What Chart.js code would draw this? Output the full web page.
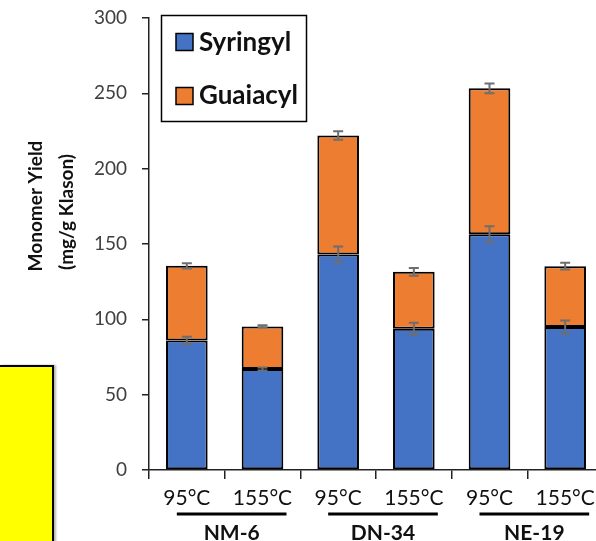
<!DOCTYPE html>
<html>
<head>
<meta charset="utf-8">
<script src="https://cdn.jsdelivr.net/npm/chart.js@4"></script>
<style>
  html, body { margin: 0; padding: 0; overflow: hidden; background: #fff; }
  #wrap { position: relative; width: 610px; height: 541px; }
  #yellow { position: absolute; left: 0; top: 365px; width: 52px; height: 176px; background: #ffff00; border-top: 2px solid #000; border-right: 2px solid #000; box-shadow: 2px 0 2px rgba(0,0,0,0.3); }
</style>
</head>
<body>
<div id="wrap">
  <canvas id="c" width="610" height="541"></canvas>
  <div id="yellow"></div>
</div>
<script>
const categories = ['95°C', '155°C', '95°C', '155°C', '95°C', '155°C'];
const groups = ['NM-6', 'DN-34', 'NE-19'];
const syringyl = [86, 67, 143, 93.8, 156.4, 94.9];
const guaiacyl = [49.5, 28.3, 79, 37.7, 96.9, 40.4];
const syringylErr = [2.5, 1, 5.3, 4, 5.3, 4.4];
const totalErr = [1.7, 0.7, 2.8, 2.5, 3.3, 2.2];
const yTicks = [0, 50, 100, 150, 200, 250, 300];

const FONT = 'Lato, "Open Sans", sans-serif';

const errorBars = {
  id: 'errorBars',
  afterDatasetsDraw(chart) {
    const ctx = chart.ctx;
    const xs = chart.scales.x, ys = chart.scales.y;
    ctx.save();
    ctx.strokeStyle = '#6e6e6e';
    ctx.lineWidth = 2;
    categories.forEach((c, i) => {
      const x = xs.getPixelForValue(i);
      const pairs = [[syringyl[i], syringylErr[i]], [syringyl[i] + guaiacyl[i], totalErr[i]]];
      pairs.forEach(([v, e]) => {
        const y1 = ys.getPixelForValue(v - e), y2 = ys.getPixelForValue(v + e);
        ctx.beginPath();
        ctx.moveTo(x, y1); ctx.lineTo(x, y2);
        ctx.moveTo(x - 5, y1); ctx.lineTo(x + 5, y1);
        ctx.moveTo(x - 5, y2); ctx.lineTo(x + 5, y2);
        ctx.stroke();
      });
    });
    ctx.restore();
  }
};

const extras = {
  id: 'extras',
  afterDraw(chart) {
    const ctx = chart.ctx;
    const xs = chart.scales.x;
    ctx.save();
    // group labels
    groups.forEach((g, gi) => {
      const xa = xs.getPixelForValue(gi * 2) - 10, xb = xs.getPixelForValue(gi * 2 + 1) + 24;
      ctx.strokeStyle = '#000';
      ctx.lineWidth = 3;
      ctx.beginPath();
      ctx.moveTo(xa, 514); ctx.lineTo(xb, 514);
      ctx.stroke();
      ctx.fillStyle = '#111';
      ctx.font = 'bold 21px ' + FONT;
      ctx.textAlign = 'center';
      ctx.textBaseline = 'alphabetic';
      ctx.fillText(g, (xa + xb) / 2, 540);
    });
    // y title
    ctx.fillStyle = '#111';
    ctx.font = 'bold 19px ' + FONT;
    ctx.textAlign = 'center';
    ctx.textBaseline = 'middle';
    ctx.save(); ctx.translate(36, 206); ctx.rotate(-Math.PI / 2); ctx.fillText('Monomer Yield', 0, 0); ctx.restore();
    ctx.save(); ctx.translate(67, 212); ctx.rotate(-Math.PI / 2); ctx.fillText('(mg/g Klason)', 0, 0); ctx.restore();
    // legend
    ctx.strokeStyle = '#000';
    ctx.lineWidth = 1.5;
    ctx.fillStyle = '#fff';
    ctx.fillRect(161.5, 15.5, 145, 106);
    ctx.strokeRect(161.5, 15.5, 145, 106);
    const items = [['Syringyl', '#4472C4', 42, 51], ['Guaiacyl', '#ED7D31', 96, 104]];
    items.forEach(([t, col, cy, base]) => {
      ctx.fillStyle = col;
      ctx.fillRect(176, cy - 8.5, 17, 17);
      ctx.lineWidth = 1.5;
      ctx.strokeStyle = '#000';
      ctx.strokeRect(176, cy - 8.5, 17, 17);
      ctx.fillStyle = '#111';
      ctx.font = 'bold 26px ' + FONT;
      ctx.textAlign = 'left';
      ctx.textBaseline = 'alphabetic';
      ctx.fillText(t, 199, base);
    });
    ctx.restore();
  }
};

new Chart(document.getElementById('c'), {
  type: 'bar',
  data: {
    labels: categories,
    datasets: [
      { label: 'Syringyl', data: syringyl, backgroundColor: '#4472C4', borderColor: '#000', borderWidth: 2, borderSkipped: false, barPercentage: 0.55, categoryPercentage: 1 },
      { label: 'Guaiacyl', data: guaiacyl, backgroundColor: '#ED7D31', borderColor: '#000', borderWidth: 2, borderSkipped: false, barPercentage: 0.55, categoryPercentage: 1 }
    ]
  },
  options: {
    responsive: false,
    animation: false,
    layout: { padding: { top: 18, right: 7, left: 0, bottom: 0 } },
    plugins: { legend: { display: false }, tooltip: { enabled: false } },
    scales: {
      x: {
        stacked: true,
        grid: { offset: true, drawOnChartArea: false, tickLength: 9, color: '#222', lineWidth: 1.5 },
        border: { display: true, color: '#222', width: 1.5 },
        ticks: { color: '#111', font: { family: FONT, size: 21 }, padding: 7, maxRotation: 0 },
        afterFit: s => { s.height = 71; s.paddingLeft = 0; s.paddingRight = 0; }
      },
      y: {
        stacked: true,
        min: 0, max: 300,
        afterBuildTicks: s => { s.ticks = yTicks.map(v => ({ value: v })); },
        grid: { drawOnChartArea: false, tickLength: 7, color: '#222', lineWidth: 1.5 },
        border: { display: true, color: '#222', width: 1.5 },
        ticks: { color: '#404040', font: { family: FONT, size: 19 }, padding: 15 },
        afterFit: s => { s.width = 149; s.paddingTop = 0; s.paddingBottom = 0; }
      }
    }
  },
  plugins: [errorBars, extras]
});
</script>
</body>
</html>
